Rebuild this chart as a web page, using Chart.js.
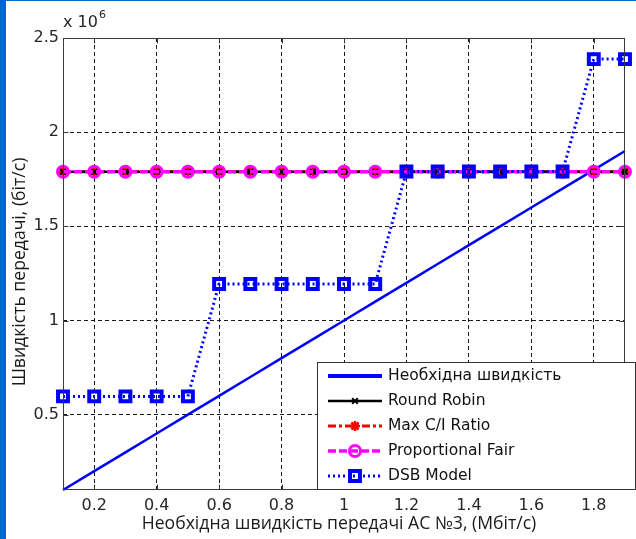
<!DOCTYPE html>
<html>
<head>
<meta charset="utf-8">
<script src="https://cdn.jsdelivr.net/npm/chart.js@4.4.1/dist/chart.umd.min.js"></script>
<style>
  html, body { margin: 0; padding: 0; background: #fff; }
  #wrap { position: relative; width: 636px; height: 539px; overflow: hidden; }
  #frameLeft { position: absolute; left: 0; top: 0; width: 6px; height: 539px; background: #0066cc; }
  #frameTop { position: absolute; left: 0; top: 0; width: 636px; height: 1px; background: #0066cc; }
</style>
</head>
<body>
<div id="wrap">
  <canvas id="rates" width="636" height="539"></canvas>
  <div id="frameLeft"></div>
  <div id="frameTop"></div>
</div>
<script>
// x: required rate of AC No3, Mbit/s
const xValues = [0.1, 0.2, 0.3, 0.4, 0.5, 0.6, 0.7, 0.8, 0.9, 1.0, 1.1, 1.2, 1.3, 1.4, 1.5, 1.6, 1.7, 1.8, 1.9];

// y: rate, bit/s
const requiredRate = [100000, 200000, 300000, 400000, 500000, 600000, 700000, 800000, 900000, 1000000,
                      1100000, 1200000, 1300000, 1400000, 1500000, 1600000, 1700000, 1800000, 1900000];
const roundRobin   = [1790000, 1790000, 1790000, 1790000, 1790000, 1790000, 1790000, 1790000, 1790000, 1790000,
                      1790000, 1790000, 1790000, 1790000, 1790000, 1790000, 1790000, 1790000, 1790000];
const maxCI        = [1790000, 1790000, 1790000, 1790000, 1790000, 1790000, 1790000, 1790000, 1790000, 1790000,
                      1790000, 1790000, 1790000, 1790000, 1790000, 1790000, 1790000, 1790000, 1790000];
const propFair     = [1790000, 1790000, 1790000, 1790000, 1790000, 1790000, 1790000, 1790000, 1790000, 1790000,
                      1790000, 1790000, 1790000, 1790000, 1790000, 1790000, 1790000, 1790000, 1790000];
const dsbModel     = [597000, 597000, 597000, 597000, 597000, 1194000, 1194000, 1194000, 1194000, 1194000,
                      1194000, 1791000, 1791000, 1791000, 1791000, 1791000, 1791000, 2388000, 2388000];

const seriesNames = ['Необхідна швидкість', 'Round Robin', 'Max C/I Ratio', 'Proportional Fair', 'DSB Model'];

const xTicks = [0.2, 0.4, 0.6, 0.8, 1.0, 1.2, 1.4, 1.6, 1.8];
const yTicks = [500000, 1000000, 1500000, 2000000, 2500000];

const xTitle = 'Необхідна швидкість передачі АС №3, (Мбіт/с)';
const yTitle = 'Швидкість передачі, (біт/с)';

function toPoints(ys) {
    return xValues.map((x, i) => ({x: x, y: ys[i]}));
}

// box, inner ticks, exponent label, axis titles and legend (MATLAB look)
const matlabDecor = {
    id: 'matlabDecor',
    afterDraw(chart) {
        const ctx = chart.ctx;
        const area = chart.chartArea;
        const xs = chart.scales.x;
        const ys = chart.scales.y;
        const L = Math.round(area.left) + 0.5, R = Math.round(area.right) - 0.5;
        const T = Math.round(area.top) + 0.5, B = Math.round(area.bottom) - 0.5;

        ctx.save();
        ctx.setLineDash([]);
        ctx.strokeStyle = '#3a3a3a';
        ctx.lineWidth = 1;
        ctx.strokeRect(L, T, R - L, B - T);

        // inner tick marks
        ctx.beginPath();
        xTicks.forEach(v => {
            const px = Math.round(xs.getPixelForValue(v)) + 0.5;
            ctx.moveTo(px, B); ctx.lineTo(px, B - 5);
            ctx.moveTo(px, T); ctx.lineTo(px, T + 5);
        });
        yTicks.forEach(v => {
            const py = Math.round(ys.getPixelForValue(v)) + 0.5;
            ctx.moveTo(L, py); ctx.lineTo(L + 5, py);
            ctx.moveTo(R, py); ctx.lineTo(R - 5, py);
        });
        ctx.stroke();

        // x 10^6
        ctx.fillStyle = '#262626';
        ctx.textBaseline = 'middle';
        ctx.textAlign = 'left';
        ctx.font = '16px "DejaVu Sans"';
        ctx.fillText('x 10', 63, 23);
        const w = ctx.measureText('x 10').width;
        ctx.font = '11px "DejaVu Sans"';
        ctx.fillText('6', 63 + w + 1, 15);

        // axis titles
        ctx.fillStyle = '#1a1a1a';
        ctx.font = '17.6px "Open Sans"';
        ctx.textAlign = 'center';
        ctx.fillText(xTitle, 339, 524);
        ctx.save();
        ctx.translate(20, 272);
        ctx.rotate(-Math.PI / 2);
        ctx.fillText(yTitle, 0, 0);
        ctx.restore();

        // legend
        const box = {x: 317.5, y: 362.5, w: 318, h: 127};
        ctx.fillStyle = '#fff';
        ctx.fillRect(box.x, box.y, box.w, box.h);
        ctx.strokeStyle = '#333';
        ctx.lineWidth = 1;
        ctx.strokeRect(box.x, box.y, box.w, box.h);

        chart.data.datasets.forEach((ds, i) => {
            const y = 376 + i * 25;
            ctx.save();
            ctx.strokeStyle = ds.borderColor;
            ctx.lineWidth = ds.legendWidth || ds.borderWidth;
            ctx.setLineDash(ds.borderDash || []);
            ctx.beginPath();
            ctx.moveTo(328, y);
            ctx.lineTo(382, y);
            ctx.stroke();
            ctx.setLineDash([]);
            if (ds.pointRadius > 0) {
                ctx.fillStyle = ds.pointBackgroundColor;
                ctx.strokeStyle = ds.pointBorderColor;
                ctx.lineWidth = ds.pointBorderWidth;
                Chart.helpers.drawPoint(ctx, {
                    pointStyle: ds.pointStyle,
                    radius: ds.pointRadius,
                    borderWidth: ds.pointBorderWidth,
                    rotation: 0
                }, 355, y);
            }
            ctx.restore();
            ctx.fillStyle = '#111';
            ctx.textAlign = 'left';
            ctx.font = '15.5px "DejaVu Sans"';
            ctx.fillText(seriesNames[i], 388, y);
        });
        ctx.restore();
    }
};

const ctx = document.getElementById('rates').getContext('2d');
new Chart(ctx, {
    type: 'line',
    data: {
        datasets: [
            {
                label: seriesNames[0],
                data: toPoints(requiredRate),
                borderColor: '#0000ff',
                borderWidth: 2.5,
                legendWidth: 4,
                pointRadius: 0,
                order: 5
            },
            {
                label: seriesNames[1],
                data: toPoints(roundRobin),
                borderColor: '#000000',
                borderWidth: 2.5,
                pointStyle: 'crossRot',
                pointRadius: 4,
                pointBorderWidth: 2,
                pointBorderColor: '#000000',
                pointBackgroundColor: '#000000',
                order: 3
            },
            {
                label: seriesNames[2],
                data: toPoints(maxCI),
                borderColor: '#ff0000',
                borderWidth: 3,
                borderDash: [8, 3, 3, 3],
                pointStyle: 'star',
                pointRadius: 5,
                pointBorderWidth: 2.5,
                pointBorderColor: '#ff0000',
                pointBackgroundColor: '#ff0000',
                order: 4
            },
            {
                label: seriesNames[3],
                data: toPoints(propFair),
                borderColor: '#ff00ff',
                borderWidth: 3.5,
                borderDash: [8, 3],
                pointStyle: 'circle',
                pointRadius: 5.5,
                pointBorderWidth: 3,
                pointBorderColor: '#ff00ff',
                pointBackgroundColor: 'rgba(0,0,0,0)',
                order: 2
            },
            {
                label: seriesNames[4],
                data: toPoints(dsbModel),
                borderColor: '#0000ff',
                borderWidth: 3,
                borderDash: [2, 3],
                pointStyle: 'rect',
                pointRadius: 7,
                pointBorderWidth: 4,
                pointBorderColor: '#0000ff',
                pointBackgroundColor: 'rgba(0,0,0,0)',
                order: 1
            }
        ]
    },
    options: {
        responsive: false,
        animation: false,
        clip: false,
        layout: { padding: { left: 0, top: 38, right: 1, bottom: 0 } },
        plugins: {
            legend: { display: false },
            tooltip: { enabled: false }
        },
        scales: {
            x: {
                type: 'linear',
                min: 0.1,
                max: 1.9,
                afterBuildTicks: scale => { scale.ticks = xTicks.map(v => ({value: v})); },
                afterFit: scale => { scale.height = 49; },
                grid: { color: '#1a1a1a', lineWidth: 1, drawTicks: false },
                border: { display: false, dash: [4, 3] },
                ticks: {
                    color: '#262626',
                    padding: 6,
                    maxRotation: 0,
                    font: { family: 'DejaVu Sans', size: 16 },
                    callback: v => String(Math.round(v * 10) / 10)
                }
            },
            y: {
                type: 'linear',
                min: 100000,
                max: 2500000,
                afterBuildTicks: scale => { scale.ticks = yTicks.map(v => ({value: v})); },
                afterFit: scale => { scale.width = 63; },
                grid: { color: '#1a1a1a', lineWidth: 1, drawTicks: false },
                border: { display: false, dash: [4, 3] },
                ticks: {
                    color: '#262626',
                    padding: 4,
                    font: { family: 'DejaVu Sans', size: 16 },
                    callback: v => String(v / 1000000)
                }
            }
        }
    },
    plugins: [matlabDecor]
});
</script>
</body>
</html>
